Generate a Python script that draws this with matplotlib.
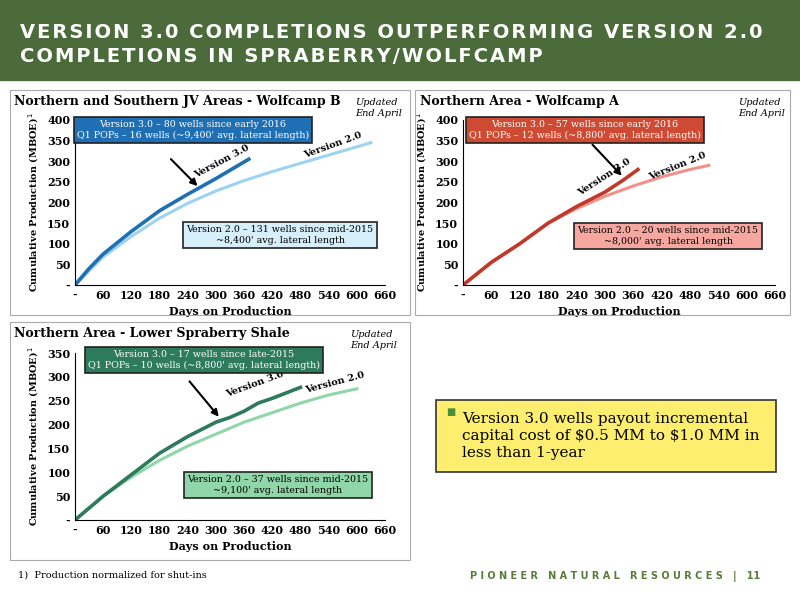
import matplotlib
matplotlib.use("Agg")
import matplotlib.pyplot as plt

W, H = 800, 600

# panel data (days, cumulative MBOE)
p1_v3_x = [0, 30, 60, 120, 180, 240, 300, 370]
p1_v3_y = [0, 40, 75, 130, 180, 220, 258, 305]
p1_v2_x = [0, 60, 120, 180, 240, 300, 360, 420, 480, 540, 600, 630]
p1_v2_y = [0, 68, 118, 162, 198, 228, 253, 275, 295, 315, 335, 345]

p2_v3_x = [0, 60, 120, 180, 240, 300, 340, 370]
p2_v3_y = [0, 55, 100, 150, 190, 225, 255, 280]
p2_v2_x = [0, 60, 120, 180, 240, 300, 360, 420, 480, 520]
p2_v2_y = [0, 55, 100, 150, 185, 215, 240, 262, 280, 290]

p3_v3_x = [0, 60, 120, 180, 240, 300, 330, 360, 390, 420, 480]
p3_v3_y = [0, 50, 95, 140, 175, 205, 215, 228, 245, 255, 278]
p3_v2_x = [0, 60, 120, 180, 240, 300, 360, 420, 480, 540, 600]
p3_v2_y = [0, 50, 90, 125, 155, 180, 205, 225, 245, 262, 275]

xticks = [0, 60, 120, 180, 240, 300, 360, 420, 480, 540, 600, 660]
xlabels = ["-"] + [str(v) for v in xticks[1:]]

SERIF = "DejaVu Serif"

fig = plt.figure(figsize=(8, 6), dpi=100)


def px(x0, y0, x1, y1):
    return [x0 / W, 1 - y1 / H, (x1 - x0) / W, (y1 - y0) / H]


def spaced(s, gap="\u200a"):
    return gap.join(s)


# header band
fig.patches.append(plt.Rectangle((0, 1 - 80 / H), 1, 80 / H, transform=fig.transFigure,
                                 color="#4b6b3a", zorder=0))
fig.text(20 / W, 1 - 32 / H, spaced("VERSION 3.0 COMPLETIONS OUTPERFORMING VERSION 2.0"),
         color="white", fontsize=14, fontweight="bold", family="DejaVu Sans", va="center")
fig.text(20 / W, 1 - 56 / H, spaced("COMPLETIONS IN SPRABERRY/WOLFCAMP"),
         color="white", fontsize=14, fontweight="bold", family="DejaVu Sans", va="center")


def panel(rect, title, title_xy, ymax, v3, v2, c3, c2, box3, box2, lab3, lab2, upd_xy):
    ax = fig.add_axes(px(*rect))
    ax.plot(v2[0], v2[1], color=c2, lw=2.2)
    ax.plot(v3[0], v3[1], color=c3, lw=2.6)
    ax.set_xlim(0, 660)
    ax.set_ylim(0, ymax)
    ax.set_xticks(xticks)
    ax.set_xticklabels(xlabels)
    yt = list(range(0, ymax + 1, 50))
    ax.set_yticks(yt)
    ax.set_yticklabels(["-"] + [str(v) for v in yt[1:]])
    ax.tick_params(labelsize=8, length=0)
    for lbl in ax.get_xticklabels() + ax.get_yticklabels():
        lbl.set_fontweight("bold")
        lbl.set_family(SERIF)
    for s in ["top", "right"]:
        ax.spines[s].set_visible(False)
    ax.set_xlabel("Days on Production", fontsize=8, fontweight="bold", family=SERIF)
    ax.set_ylabel("Cumulative Production (MBOE)$^1$", fontsize=7, fontweight="bold", family=SERIF)
    fig.text(title_xy[0] / W, 1 - title_xy[1] / H, title, fontsize=9, fontweight="bold",
             family=SERIF, va="center")
    fig.text(upd_xy[0] / W, 1 - upd_xy[1] / H, "Updated\nEnd April", fontsize=7,
             style="italic", family=SERIF, va="center")
    for (bx, by, t1, t2, fc, tc) in (box3, box2):
        fig.text(bx, by, t1 + "\n" + t2, fontsize=6.8, family=SERIF, color=tc,
                 ha="center", va="center",
                 bbox=dict(boxstyle="square,pad=0.35", fc=fc, ec="#222222", lw=1.2))
    for (x, y, rot, t) in (lab3, lab2):
        ax.text(x, y, t, rotation=rot, fontsize=7, fontweight="bold", family=SERIF,
                ha="center", va="center")
    return ax


def B(x, y, t1, t2, fc, tc="black"):
    return (x / W, 1 - y / H, t1, t2, fc, tc)


a1 = panel((75, 120, 385, 285), "Northern and Southern JV Areas - Wolfcamp B", (14, 101), 400,
           (p1_v3_x, p1_v3_y), (p1_v2_x, p1_v2_y), "#1f6fb5", "#9dd3f2",
           B(193, 130, "Version 3.0 – 80 wells since early 2016",
             "Q1 POPs – 16 wells (~9,400' avg. lateral length)", "#1f6fb5", "white"),
           B(280, 235, "Version 2.0 – 131 wells since mid-2015",
             "~8,400' avg. lateral length", "#d7eefb"),
           (312, 300, 28, "Version 3.0"), (550, 340, 20, "Version 2.0"), (355, 108))
a2 = panel((463, 120, 775, 285), "Northern Area - Wolfcamp A", (420, 101), 400,
           (p2_v3_x, p2_v3_y), (p2_v2_x, p2_v2_y), "#c0392b", "#f2908a",
           B(585, 130, "Version 3.0 – 57 wells since early 2016",
             "Q1 POPs – 12 wells (~8,800' avg. lateral length)", "#cf4a32", "white"),
           B(668, 236, "Version 2.0 – 20 wells since mid-2015",
             "~8,000' avg. lateral length", "#f6a7a0"),
           (300, 262, 33, "Version 3.0"), (453, 288, 22, "Version 2.0"), (738, 108))
a3 = panel((75, 353, 385, 520), "Northern Area - Lower Spraberry Shale", (14, 334), 350,
           (p3_v3_x, p3_v3_y), (p3_v2_x, p3_v2_y), "#2d7a5c", "#8fd6a8",
           B(204, 360, "Version 3.0 – 17 wells since late-2015",
             "Q1 POPs – 10 wells (~8,800' avg. lateral length)", "#2d7a5c", "white"),
           B(278, 485, "Version 2.0 – 37 wells since mid-2015",
             "~9,100' avg. lateral length", "#8fd6a8"),
           (383, 285, 20, "Version 3.0"), (553, 287, 15, "Version 2.0"), (350, 340))

# panel borders
for r in [(10, 90, 410, 315), (415, 90, 790, 315), (10, 322, 410, 560)]:
    x0, y0, x1, y1 = r
    fig.patches.append(plt.Rectangle((x0 / W, 1 - y1 / H), (x1 - x0) / W, (y1 - y0) / H,
                                     transform=fig.transFigure, fill=False, ec="#aaaaaa", lw=0.8))

# arrows
arr = dict(arrowstyle="-|>", color="black", lw=1.5)
a1.annotate("", xy=(265, 235), xytext=(200, 310), arrowprops=arr)
a2.annotate("", xy=(340, 260), xytext=(270, 345), arrowprops=arr)
a3.annotate("", xy=(310, 212), xytext=(240, 295), arrowprops=arr)

# yellow note
fig.patches.append(plt.Rectangle((436 / W, 1 - 472 / H), 340 / W, 72 / H, transform=fig.transFigure,
                                 fc="#fdee6f", ec="#333333", lw=1.2))
fig.text(462 / W, 1 - 436 / H,
         "Version 3.0 wells payout incremental\ncapital cost of \\$0.5 MM to \\$1.0 MM in\nless than 1-year",
         fontsize=11, family="DejaVu Serif", ha="left", va="center", linespacing=1.25)
fig.text(446 / W, 1 - 412 / H, "■", color="#4b8f3a", fontsize=7, va="center")

fig.text(18 / W, 1 - 578 / H, "1)  Production normalized for shut-ins", fontsize=7, family=SERIF)
fig.text(760 / W, 1 - 576 / H, "P I O N E E R   N A T U R A L   R E S O U R C E S   |   11", fontsize=7,
         color="#5a7a3a", fontweight="bold", ha="right", va="center")
fig.savefig("out.png", dpi=100)
